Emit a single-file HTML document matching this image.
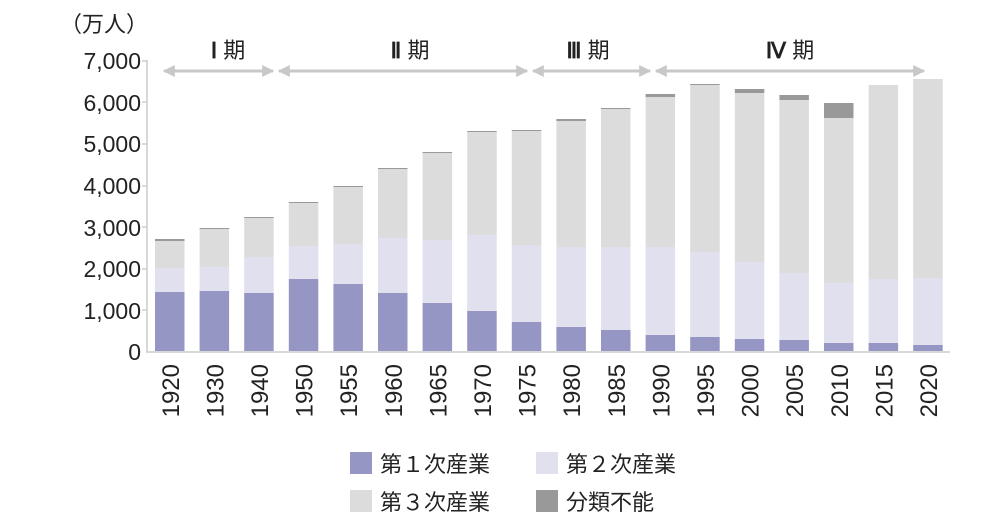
<!DOCTYPE html>
<html><head><meta charset="utf-8"><style>
body{margin:0;background:#fff}
svg{display:block;font-family:"Liberation Sans","Noto Sans CJK JP",sans-serif}
</style></head><body>
<svg width="1000" height="529" viewBox="0 0 1000 529">
<defs>
<marker id="ah" viewBox="0 0 10 10" refX="9" refY="5" markerWidth="4" markerHeight="4" orient="auto-start-reverse"><path d="M0,0L10,5L0,10z" fill="#c8c8c8"/></marker>
</defs>
<text x="60" y="32" font-size="22" fill="#222">（万人）</text>
<g font-size="23" fill="#222" text-anchor="end">
<text x="141" y="360">0</text>
<text x="141" y="319">1,000</text>
<text x="141" y="277">2,000</text>
<text x="141" y="236">3,000</text>
<text x="141" y="194">4,000</text>
<text x="141" y="152">5,000</text>
<text x="141" y="111">6,000</text>
<text x="141" y="69">7,000</text>
</g>
<g stroke="#ccc" stroke-width="1.5">
<line x1="147" y1="60" x2="147" y2="352"/>
<line x1="146" y1="352" x2="950" y2="352"/>
<line x1="142" y1="61" x2="147" y2="61"/><line x1="142" y1="102" x2="147" y2="102"/><line x1="142" y1="144" x2="147" y2="144"/><line x1="142" y1="186" x2="147" y2="186"/><line x1="142" y1="227" x2="147" y2="227"/><line x1="142" y1="269" x2="147" y2="269"/><line x1="142" y1="310" x2="147" y2="310"/>
</g>
<g stroke="#c8c8c8" stroke-width="3" marker-start="url(#ah)" marker-end="url(#ah)">
<line x1="164" y1="71" x2="273" y2="71"/>
<line x1="279" y1="71" x2="527" y2="71"/>
<line x1="533" y1="71" x2="650" y2="71"/>
<line x1="656" y1="71" x2="924" y2="71"/>
</g>
<g font-size="22" fill="#222" text-anchor="middle">
<text x="228" y="58"><tspan font-family="Liberation Serif,serif" font-weight="bold">Ⅰ</tspan> 期</text><text x="410" y="58"><tspan font-family="Liberation Serif,serif" font-weight="bold">Ⅱ</tspan> 期</text><text x="588" y="58"><tspan font-family="Liberation Serif,serif" font-weight="bold">Ⅲ</tspan> 期</text><text x="790" y="58"><tspan font-family="Liberation Serif,serif" font-weight="bold">Ⅳ</tspan> 期</text>
</g>
<g id="bars"></g>
<g id="xl" font-size="24" fill="#222"></g>
<rect x="350" y="452" width="22" height="22" fill="#9696c4"/>
<text x="380" y="472" font-size="22" fill="#222">第１次産業</text>
<rect x="536" y="452" width="22" height="22" fill="#e0e0ee"/>
<text x="566" y="472" font-size="22" fill="#222">第２次産業</text>
<rect x="350" y="490" width="22" height="22" fill="#dcdcdc"/>
<text x="380" y="510" font-size="22" fill="#222">第３次産業</text>
<rect x="536" y="490" width="22" height="22" fill="#999"/>
<text x="566" y="510" font-size="22" fill="#222">分類不能</text>
<script>
var d=[[1920,292,268,241,239],[1930,291,267,229,228],[1940,293,257,218,217],[1950,279,246,203,202],[1955,284,244,187,186],[1960,293,238,169,168],[1965,303,240,153,152],[1970,311,235,132,131],[1975,322,245,131,130],[1980,327,247,121,119],[1985,330,247,109,108],[1990,335,247,97,94],[1995,337,252,85,84],[2000,339,262,93,89],[2005,340,273,100,95],[2010,343,283,118,103],[2015,343,279,85,85],[2020,345,278,79,79]];
var ns="http://www.w3.org/2000/svg",b=document.getElementById("bars"),xl=document.getElementById("xl");
function r(x,y1,y2,c){if(y2-y1<=0)return;var e=document.createElementNS(ns,"rect");e.setAttribute("x",x);e.setAttribute("y",y1);e.setAttribute("width",29.5);e.setAttribute("height",y2-y1);e.setAttribute("fill",c);b.appendChild(e);}
d.forEach(function(v,i){var x=155+i*44.6;
r(x,v[4],v[3],"#999");r(x,v[3],v[2],"#dcdcdc");r(x,v[2],v[1],"#e0e0ee");r(x,v[1],351,"#9696c4");
var t=document.createElementNS(ns,"text");var cx=x+14.75+9;t.setAttribute("transform","translate("+cx+",364) rotate(-90)");t.setAttribute("text-anchor","end");t.textContent=v[0];xl.appendChild(t);});
</script>
</svg>
</body></html>
